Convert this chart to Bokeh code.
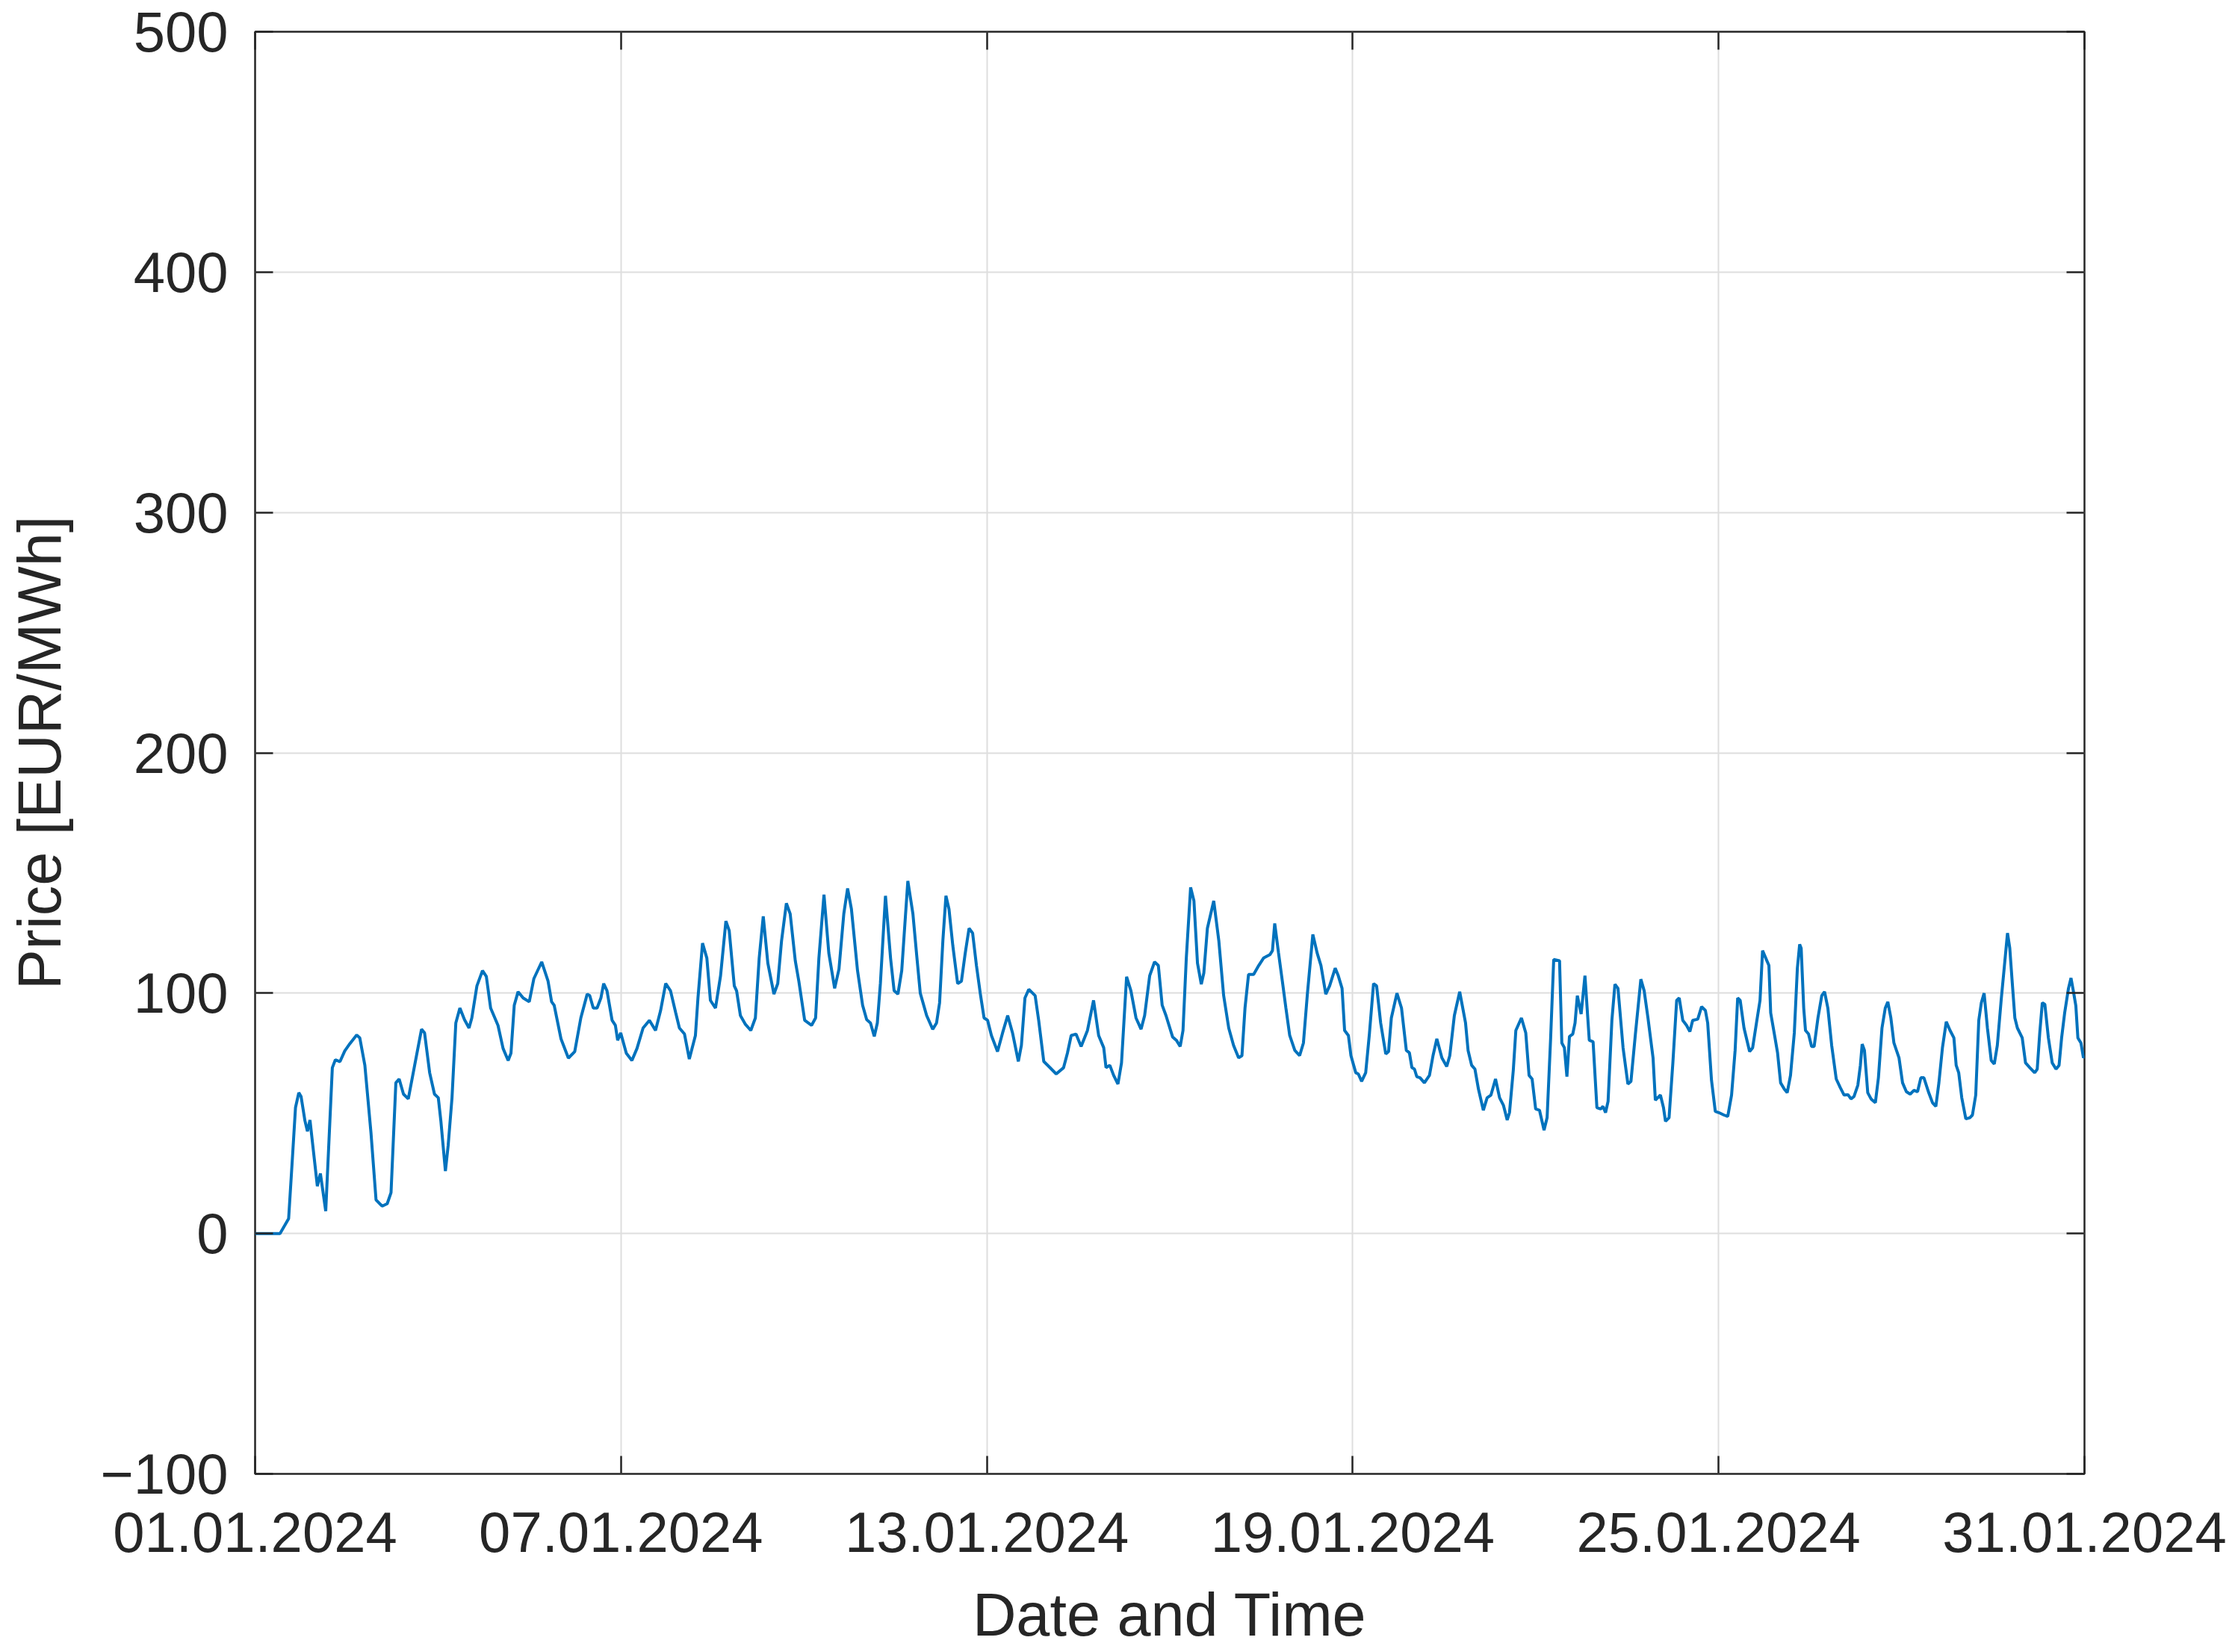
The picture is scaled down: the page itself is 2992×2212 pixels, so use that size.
import pandas as pd
from bokeh.plotting import figure
from bokeh.models import (FixedTicker, DatetimeTickFormatter, CustomJSTickFormatter,
                          LinearAxis, DatetimeAxis, Range1d, ColumnDataSource)
from bokeh.embed import file_html
from bokeh.resources import INLINE

# hours after 01.01.2024 00:00
hours = [
    0, 9.8, 11.8, 13.2, 14.7, 15.9, 17.2, 18.1, 19.6, 20.6, 21.6, 22.8, 24.5, 25.7, 27.8,
    30.4, 31.6, 33.4, 35.3, 37.3, 40.0, 41.2, 43.2, 45.6, 47.6, 50.0, 52.0, 53.5, 55.4,
    56.7, 58.4, 60.3, 62.8, 65.5, 66.7, 68.7, 70.6, 72.1, 73.1, 74.9, 76.0, 77.5, 79.0,
    80.6, 82.4, 84.2, 85.3, 87.3, 89.5, 91.0, 92.7, 95.6, 97.6, 99.6, 100.7, 102.0, 103.5,
    105.5, 107.9, 109.7, 112.8, 115.3, 116.7, 117.7, 120.4,
    123.3, 125.8, 128.2, 130.7, 131.7, 133.1, 134.6, 136.1, 137.2, 138.5, 140.5, 141.8,
    142.7, 143.9, 146.1, 148.3, 150.3, 152.7, 155.2, 157.6, 159.6, 161.6, 163.5, 165.5,
    167.0, 169.0, 170.9, 173.3, 174.3, 176.1, 177.8, 179.2, 181.2, 183.2, 185.3, 186.6,
    188.6, 189.5, 191.0, 193.0, 195.1, 196.9, 198.4, 200.0, 201.8, 204.2, 205.7, 207.2,
    209.1, 210.6, 212.6, 214.0, 216.3, 219.0, 220.6, 221.9, 223.9, 225.8, 228.1, 229.8,
    231.7, 233.2, 234.7, 237.1, 239.1, 240.7,
    242.2, 243.7, 244.9, 246.1, 248.1, 250.1, 251.5, 253.0, 254.5, 255.5, 256.9, 258.9,
    260.4, 261.8, 264.3, 266.7, 268.2, 269.4, 270.7, 271.9, 273.1, 274.6, 276.5, 278.0,
    279.5, 281.0, 282.4, 283.9, 285.4, 286.9, 288.3, 289.8, 292.2, 294.2, 296.2, 298.1,
    300.4, 301.6, 303.0, 304.5, 307.0, 308.4, 310.4, 312.4, 315.3, 318.2, 319.7, 321.2,
    323.1, 325.1, 327.6, 330.0, 332.0, 334.0, 334.9, 336.4, 337.9, 339.6, 341.0, 343.0,
    344.7, 346.7, 348.7, 350.1, 352.1, 354.0, 355.5, 357.0, 358.5, 361.1,
    362.6, 364.1, 365.2, 366.5, 368.2, 369.5, 370.9, 372.4, 373.4, 374.8, 377.3, 379.3,
    381.2, 383.2, 385.1, 387.1, 388.4, 389.6, 391.0, 393.0, 395.0, 396.9, 399.4, 400.4,
    401.3, 402.8, 404.3, 405.7, 407.2, 409.2, 411.1, 412.6, 414.1, 416.3, 418.0, 419.5,
    421.4, 422.9, 425.1, 426.3, 427.8, 428.8, 430.3, 431.3, 433.2, 434.2, 435.5, 437.1,
    438.6, 440.2, 441.4, 443.0, 445.0, 446.1, 447.2, 449.4, 451.2, 453.1, 454.3, 455.3,
    456.3, 457.2, 458.5, 460.2, 462.2, 463.6, 465.1, 467.1, 469.0, 470.2, 472.0, 474.1,
    476.4, 477.4, 478.8, 480.1, 481.5,
    483.4, 484.9, 486.4, 488.2, 489.8, 491.3, 492.8, 493.7, 495.2, 496.2, 498.4, 500.1,
    501.4, 502.6, 504.0, 505.5, 507.3, 508.5, 509.9, 511.1, 513.4, 514.3, 515.3, 516.3,
    517.3, 518.6, 519.5, 520.4, 521.9, 523.4, 525.1, 526.6, 528.1, 529.6, 530.5, 531.5,
    532.5, 534.0, 535.2, 536.4, 538.4, 540.3, 541.5, 543.3, 545.4, 546.7, 548.2, 550.2,
    551.1, 553.1, 554.3, 555.1, 556.5, 558.0, 559.5, 560.5, 561.9, 563.4, 564.7, 565.8,
    567.8, 569.3, 570.8, 571.7, 573.2, 574.7, 576.1, 578.1, 579.6, 581.1, 582.5, 583.5,
    584.5, 586.0, 588.2, 589.4, 590.9, 592.3, 593.3, 595.8, 596.5, 598.2, 599.2, 600.4,
    601.9,
    603.0, 604.3, 605.8, 607.0, 607.9, 608.5, 609.5, 610.2, 611.4, 612.6, 613.6, 615.1,
    616.6, 617.7, 619.0, 620.5, 622.3, 623.9, 625.4, 626.9, 628.1, 629.3, 630.8, 631.8,
    632.5, 633.4, 634.7, 636.0, 637.7, 638.9, 640.3, 641.6, 642.6, 643.8, 645.0, 647.0,
    648.4, 649.9, 651.4, 652.9, 654.3, 655.6, 656.8, 658.7, 660.2, 661.5, 662.7, 664.1,
    665.6, 667.1, 668.6, 669.5, 670.5, 671.7, 673.3, 674.9, 675.9, 677.2, 678.4, 679.4,
    680.5, 681.8, 683.3, 684.5, 685.7, 687.2, 688.4, 689.7, 690.6, 691.6, 692.6, 693.6,
    695.5, 696.8, 698.5, 700.4, 701.4, 702.4, 703.4, 704.4, 705.8, 707.3, 708.8, 710.0,
    711.0, 712.2, 713.7, 714.7, 715.6, 716.6, 717.4, 718.6, 719.6, 720.1,
]

# day-ahead price, EUR/MWh
price = [
    0, 0, 3.6, 6.2, 31.6, 52.4, 58.6, 57, 47, 42.5, 47.2, 35.8, 19.7, 25, 9.3,
    69, 72.3, 71.5, 76, 79, 82.6, 81.4, 70, 42, 14, 11.4, 12.4, 17, 62.7,
    64.3, 58, 56, 70, 85, 83.5, 66.9, 58, 56.5, 47, 26, 36.8, 56.5, 87.6,
    93.8, 89, 85.5, 89.7, 103, 109.4, 107, 93.8, 86.6, 77, 72, 75, 95, 100.6,
    98, 96.4, 106, 113, 105, 96.4, 95, 81,
    73, 75.7, 89.7, 99.6, 99, 93.8, 93.8, 98, 104, 101, 88.7, 86.6,
    80.4, 83.5, 75, 72, 77, 85.5, 88.7, 84.5, 92.8, 104, 101, 92,
    85.5, 83, 72.6, 82.4, 98, 120.8, 114.6, 97, 93.8, 107.3, 130, 126,
    103, 101, 90.7, 87, 84.5, 89.7, 114.6, 132, 112.5, 99.6, 104, 121.8,
    137.4, 133, 113.5, 105, 88.7, 86.6, 89.7, 114.6, 141, 116.7, 102, 110,
    133, 143.6, 135, 109.4, 95, 89,
    87.6, 82, 87.6, 104, 140.5, 114.6, 101, 99.6, 109.4, 125, 146.7, 133,
    115.6, 100, 90.7, 85, 87.6, 96, 122, 140.5, 135, 119.8, 104, 105,
    116.7, 127, 125, 111.5, 100, 89.7, 88.7, 82.4, 75.7, 83.5, 90.7, 83.5,
    71.6, 78.3, 98, 101.6, 99, 88.7, 71.6, 69.5, 66.4, 69, 75, 82.4,
    83, 77.8, 84.5, 97, 82.4, 77.3, 69, 70, 65.8, 62.2, 71, 106.8,
    101, 89.7, 85, 90.7, 107.3, 113, 111.5, 95, 90.7, 81.8,
    80.4, 77.8, 84.5, 114.6, 144, 138.4, 112.5, 103.7, 108.4, 127, 138.4, 121.8,
    99, 85.5, 78.3, 73.1, 74, 93.8, 107.8, 107.8, 111.5, 114.6, 116, 117.7,
    129, 116.7, 105, 93.8, 82.4, 76.2, 74, 79.3, 99, 124.4, 116.7, 111.5,
    99.6, 103, 110.4, 107.3, 102, 84.5, 82.4, 74, 66.9, 66.4, 63.3, 66.9,
    83.5, 104, 103, 87.6, 74.7, 75.7, 89.7, 100, 93.8, 76.2, 75.2, 69,
    68.4, 65.3, 64.8, 62.7, 65.8, 74, 81, 73.1, 69.5, 74, 90.7, 100.6,
    87.6, 76.2, 70, 68.4, 60,
    51.3, 56.5, 57.6, 64.3, 56.5, 53.4, 47.2, 50.3, 68, 84.5, 89.7, 83.5,
    65.8, 64.3, 51.8, 51.3, 43, 48.2, 81.4, 114, 113.5, 79.3, 77.3, 65.3,
    82, 83, 87.6, 99, 91.3, 107.3, 80.4, 79.8, 52.4, 51.8, 52.9, 50.3,
    55, 88.7, 103.7, 102, 77.3, 62.2, 63.3, 83.5, 105.8, 101, 89.7, 73.1,
    55.5, 57.6, 52.4, 46.7, 48.2, 71, 97, 98, 88.7, 86.6, 84, 88.7,
    89.2, 94.4, 92.8, 87.6, 63.8, 50.8, 50.3, 49.3, 48.7, 57.6, 76.2, 98,
    97, 85.5, 75.7, 77.3, 87.6, 97, 117.7, 111.5, 91.8, 81.4, 75.2, 62.7,
    60,
    58.6, 65.8, 83.5, 110.4, 120.3, 118.7, 93.8, 84.5, 83, 77.8, 77.8, 89.7,
    99, 100.6, 93.8, 78.3, 64.3, 60.7, 57.6, 57.8, 56, 57, 61.7, 70,
    78.8, 76.2, 58.6, 56, 54.4, 64.8, 85.5, 93.8, 96.4, 89.7, 79.3, 73.1,
    62.7, 59, 58, 59.6, 59, 64.8, 64.8, 58.6, 54.4, 52.9, 62.7, 77.3,
    88.1, 84.5, 81.4, 70, 66.9, 56.5, 47.7, 48.2, 49.3, 57.6, 88.7, 96,
    100, 85.5, 72, 70.5, 78.3, 97, 110.4, 125, 118.7, 104, 89.7, 85.5,
    81.4, 71, 69, 66.9, 68.4, 83.5, 96, 95.4, 81.4, 71, 68.4, 70,
    81.4, 91.8, 102, 106.3, 101, 94.8, 81.4, 79.3, 73.1, 74,
]

x_tick_dates = ["2024-01-01", "2024-01-07", "2024-01-13", "2024-01-19", "2024-01-25", "2024-01-31"]
y_ticks = [-100, 0, 100, 200, 300, 400, 500]

start = pd.Timestamp("2024-01-01 00:00")
times = start + pd.to_timedelta(hours, unit="h")
src = ColumnDataSource(dict(t=times, price=price))
x_ticks_ms = [pd.Timestamp(d).value // 10**6 for d in x_tick_dates]

INK = "#262626"
FONT = "Liberation Sans"
TICK_FS = "76px"
LABEL_FS = "81px"

p = figure(width=2992, height=2212, x_axis_type="datetime",
           output_backend="svg", toolbar_location=None,
           x_range=Range1d(pd.Timestamp("2024-01-01"), pd.Timestamp("2024-01-31")),
           y_range=Range1d(-100, 500),
           min_border_left=341, min_border_right=202,
           min_border_top=42, min_border_bottom=239)

p.background_fill_color = "white"
p.border_fill_color = "white"
p.outline_line_color = INK
p.outline_line_width = 2.5

xt = FixedTicker(ticks=x_ticks_ms)
yt = FixedTicker(ticks=y_ticks)
fmt_all = "%d.%m.%Y"
dt_fmt = DatetimeTickFormatter(days=fmt_all, months=fmt_all, hours=fmt_all,
                               hourmin=fmt_all, years=fmt_all, minutes=fmt_all)
y_fmt = CustomJSTickFormatter(code="return tick < 0 ? '\u2212' + Math.abs(tick) : String(tick);")
blank_fmt = CustomJSTickFormatter(code="return '';")

def style(ax):
    ax.axis_line_color = None
    ax.major_tick_in = 24
    ax.major_tick_out = 0
    ax.major_tick_line_color = INK
    ax.major_tick_line_width = 2.5
    ax.minor_tick_line_color = None
    ax.major_label_text_font = FONT
    ax.major_label_text_font_size = TICK_FS
    ax.major_label_text_color = INK

def style_label(ax, text, standoff):
    ax.axis_label = text
    ax.axis_label_text_font = FONT
    ax.axis_label_text_font_size = LABEL_FS
    ax.axis_label_text_font_style = "normal"
    ax.axis_label_text_color = INK
    ax.axis_label_standoff = standoff

xa = p.xaxis[0]
xa.ticker = xt
xa.formatter = dt_fmt
style(xa)
xa.major_label_standoff = 51
style_label(xa, "Date and Time", 36)

ya = p.yaxis[0]
ya.ticker = yt
ya.formatter = y_fmt
style(ya)
ya.major_label_standoff = 36
style_label(ya, "Price [EUR/MWh]", 33)

# box ticks on the right and top (no labels), as in the reference
ra = LinearAxis(ticker=yt, formatter=blank_fmt)
style(ra)
ra.major_label_text_font_size = "1px"
ra.major_label_standoff = 0
p.add_layout(ra, "right")

ta = DatetimeAxis(ticker=xt, formatter=blank_fmt)
style(ta)
ta.major_label_text_font_size = "1px"
ta.major_label_standoff = 0
p.add_layout(ta, "above")

p.xgrid.ticker = xt
p.ygrid.ticker = yt
for g in (p.xgrid, p.ygrid):
    g.grid_line_color = "#dedede"
    g.grid_line_width = 2

p.line("t", "price", source=src, line_color="#0072BD", line_width=4)

open("out.html", "w").write(file_html(p, INLINE))
